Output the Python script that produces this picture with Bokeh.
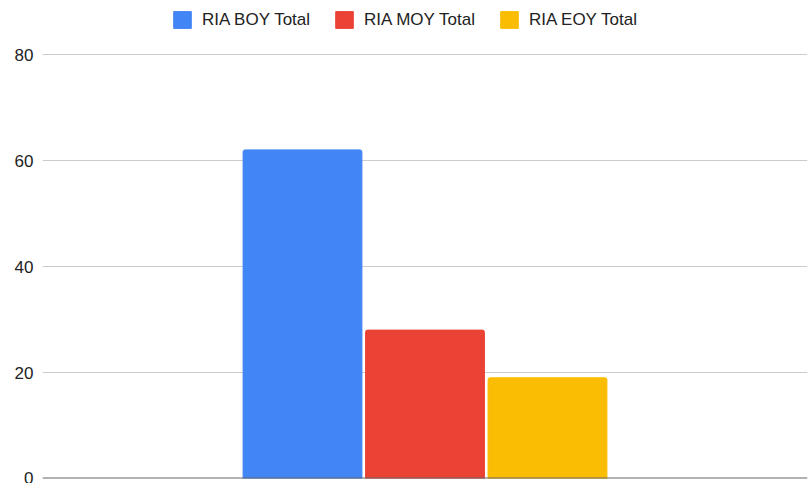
from bokeh.plotting import figure
from bokeh.models import ColumnDataSource, FactorRange, Range1d, Span, Legend, LegendItem, FixedTicker
from bokeh.embed import file_html
from bokeh.resources import INLINE

series = ["RIA BOY Total", "RIA MOY Total", "RIA EOY Total"]
values = [62, 28, 19]
colors = ["#4285F4", "#EA4335", "#FBBC04"]
y_ticks = [0, 20, 40, 60, 80]

FONT = "Liberation Sans"

source = ColumnDataSource(dict(series=series, values=values, colors=colors))

# frame spans the full height above the baseline; the extra top room holds the legend
p = figure(
    width=811, height=483,
    x_range=FactorRange(factors=series, range_padding=1.0817, range_padding_units="percent"),
    y_range=Range1d(0, 80 * 478 / 424),
    output_backend="svg", toolbar_location=None,
    min_border_left=42, min_border_right=4, min_border_top=0, min_border_bottom=5,
)
p.outline_line_color = None
p.background_fill_color = "white"

r = p.vbar(x="series", top="values", width=0.97, color="colors", source=source,
           border_radius=(2, 2, 0, 0))

p.xaxis.visible = False
p.xgrid.visible = False
p.ygrid.grid_line_color = "#cccccc"
p.ygrid.grid_line_width = 1
p.ygrid.ticker = FixedTicker(ticks=y_ticks)

ya = p.yaxis[0]
ya.ticker = FixedTicker(ticks=y_ticks)
ya.axis_line_color = None
ya.major_tick_line_color = None
ya.minor_tick_line_color = None
ya.major_tick_out = 0
ya.major_tick_in = 0
ya.minor_tick_out = 0
ya.major_label_standoff = 9
ya.major_label_text_font = FONT
ya.major_label_text_font_size = "17px"
ya.major_label_text_color = "#222222"

p.add_layout(Span(location=0, dimension="width", line_color="#666666", line_width=2))

legend = Legend(
    items=[LegendItem(label=s, renderers=[r], index=i) for i, s in enumerate(series)],
    location=(129, 448), orientation="horizontal",
    border_line_color=None, background_fill_alpha=0,
    padding=0, margin=0, spacing=23, label_standoff=9,
    glyph_width=22, glyph_height=21, label_height=21,
    label_text_font=FONT, label_text_font_size="17px", label_text_color="#222222",
)
p.add_layout(legend, "center")

open("out.html", "w").write(file_html(p, INLINE))
